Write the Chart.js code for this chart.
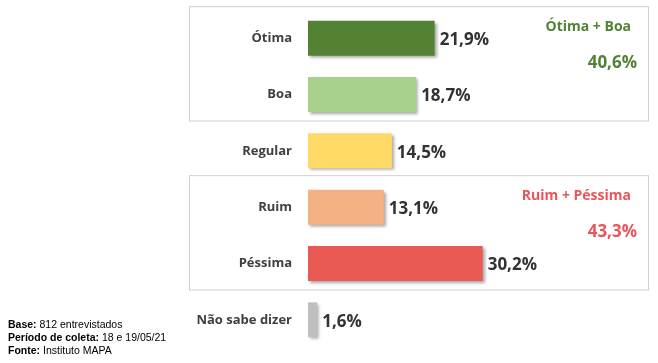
<!DOCTYPE html>
<html>
<head>
<meta charset="utf-8">
<script src="https://cdn.jsdelivr.net/npm/chart.js@4"></script>
<style>
  html, body { margin: 0; padding: 0; background: #fff; }
  #wrap { position: relative; width: 658px; height: 363px; }
  canvas { display: block; }
  #note { position: absolute; left: 8px; top: 318px; font: 10.5px "Liberation Sans", Arial, sans-serif; color: #000; line-height: 13px; }
</style>
</head>
<body>
<div id="wrap">
  <canvas id="chart" width="658" height="363"></canvas>
  <div id="note">
    <b>Base:</b> 812 entrevistados<br>
    <b>Período de coleta:</b> 18 e 19/05/21<br>
    <b>Fonte:</b> Instituto MAPA
  </div>
</div>
<script>
  const categories = ["Ótima", "Boa", "Regular", "Ruim", "Péssima", "Não sabe dizer"];
  const values = [21.9, 18.7, 14.5, 13.1, 30.2, 1.6];
  const barColors = ["#548235", "#a9d18e", "#ffd966", "#f4b183", "#ea5a55", "#bfbfbf"];

  const groupLabels = ["Ótima + Boa", "Ruim + Péssima"];
  const groupValues = [40.6, 43.3];
  const groupColors = ["#538135", "#e8555a"];
  const groupRows = [[0, 1], [3, 4]];

  const fmt = v => v.toFixed(1).replace(".", ",") + "%";

  // boxes around the grouped rows, with the group totals
  const groupBoxes = {
    id: "groupBoxes",
    beforeDatasetsDraw(chart) {
      const { ctx, chartArea, scales } = chart;
      const y = scales.y;
      ctx.save();
      groupRows.forEach((rows, i) => {
        const top = y.getPixelForValue(rows[0]) - 32;
        const bottom = y.getPixelForValue(rows[1]) + 26;
        const left = chartArea.left - 119;
        const right = chartArea.right - 7;
        ctx.strokeStyle = "#d0d0d0";
        ctx.lineWidth = 1;
        ctx.strokeRect(left + 0.5, top + 0.5, right - left, bottom - top);
        ctx.fillStyle = groupColors[i];
        ctx.font = "bold 14px 'Open Sans', sans-serif";
        ctx.textAlign = "right";
        ctx.textBaseline = "middle";
        ctx.fillText(groupLabels[i], right - 17, top + 21);
        ctx.font = "bold 17px 'Open Sans', sans-serif";
        ctx.fillText(fmt(groupValues[i]), right - 11, top + 57);
      });
      ctx.restore();
    }
  };

  // soft drop shadow under bars
  const barShadow = {
    id: "barShadow",
    beforeDatasetDraw(chart) {
      const ctx = chart.ctx;
      ctx.save();
      ctx.shadowColor = "rgba(0,0,0,0.35)";
      ctx.shadowBlur = 3;
      ctx.shadowOffsetX = 2;
      ctx.shadowOffsetY = 2;
    },
    afterDatasetDraw(chart) {
      chart.ctx.restore();
    }
  };

  // value labels at the end of each bar
  const valueLabels = {
    id: "valueLabels",
    afterDatasetsDraw(chart) {
      const { ctx } = chart;
      const meta = chart.getDatasetMeta(0);
      ctx.save();
      ctx.fillStyle = "#333333";
      ctx.font = "bold 17px 'Open Sans', sans-serif";
      ctx.textAlign = "left";
      ctx.textBaseline = "middle";
      meta.data.forEach((bar, i) => {
        ctx.fillText(fmt(values[i]), bar.x + 5, bar.y + 2);
      });
      ctx.restore();
    }
  };

  const ctx = document.getElementById("chart").getContext("2d");
  new Chart(ctx, {
    type: "bar",
    data: {
      labels: categories,
      datasets: [{
        data: values,
        backgroundColor: barColors,
        borderWidth: 0,
        barPercentage: 0.62,
        categoryPercentage: 1
      }]
    },
    plugins: [groupBoxes, barShadow, valueLabels],
    options: {
      indexAxis: "y",
      responsive: false,
      animation: false,
      layout: { padding: { top: 10, bottom: 15, left: 0, right: 3 } },
      scales: {
        x: {
          min: 0,
          max: 60,
          display: false
        },
        y: {
          grid: { display: false },
          border: { display: false },
          afterFit(scale) {
            scale.width = 308;
            scale.paddingTop = 0;
            scale.paddingBottom = 0;
          },
          ticks: {
            color: "#404040",
            padding: 8,
            font: { family: "'Open Sans', sans-serif", size: 13, weight: "bold" }
          }
        }
      },
      plugins: {
        legend: { display: false },
        tooltip: { enabled: false }
      }
    }
  });
</script>
</body>
</html>
